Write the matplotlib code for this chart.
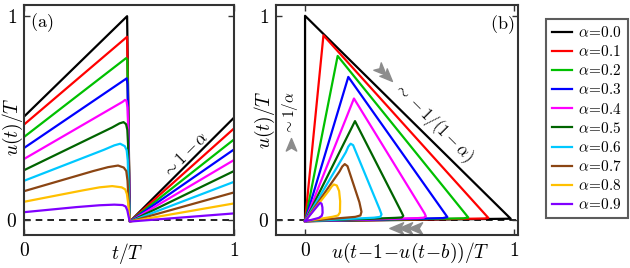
import numpy as np
import matplotlib
matplotlib.use("Agg")
import matplotlib.pyplot as plt
from matplotlib.path import Path

plt.rcParams["mathtext.fontset"] = "cm"
plt.rcParams["font.family"] = "serif"
plt.rcParams["font.serif"] = ["DejaVu Serif"]

alphas = [0.0, 0.1, 0.2, 0.3, 0.4, 0.5, 0.6, 0.7, 0.8, 0.9]
colors = ["#000000", "#ff0000", "#00c000", "#0000ff", "#ff00ff",
          "#006400", "#00c8ff", "#8b4513", "#ffc000", "#8000ff"]

# panel (a): u(t)/T over one period
a_start = [0.505, 0.466, 0.405, 0.351, 0.297, 0.242, 0.190, 0.139, 0.087, 0.036]
a_end = [0.500, 0.447, 0.393, 0.344, 0.292, 0.238, 0.185, 0.133, 0.079, 0.030]
a_reset_t = 0.504
a_reset_u = -0.01
a_top_t = [
    [0.491],
    [0.491],
    [0.486, 0.492],
    [0.482, 0.489, 0.493],
    [0.470, 0.481, 0.488, 0.493, 0.496],
    [0.420, 0.455, 0.474, 0.486, 0.492, 0.496, 0.499],
    [0.380, 0.430, 0.458, 0.480, 0.489, 0.494, 0.498],
    [0.330, 0.400, 0.448, 0.475, 0.487, 0.493, 0.498],
    [0.280, 0.360, 0.420, 0.465, 0.482, 0.490, 0.496, 0.500],
    [0.250, 0.360, 0.430, 0.470, 0.484, 0.492, 0.498],
]
a_top_u = [
    [0.998],
    [0.897],
    [0.792, 0.785],
    [0.688, 0.693, 0.665],
    [0.578, 0.587, 0.583, 0.550, 0.450],
    [0.452, 0.472, 0.478, 0.468, 0.440, 0.360, 0.200],
    [0.342, 0.364, 0.372, 0.360, 0.340, 0.290, 0.150],
    [0.238, 0.257, 0.265, 0.255, 0.238, 0.190, 0.090],
    [0.143, 0.158, 0.164, 0.158, 0.148, 0.125, 0.080, 0.030],
    [0.061, 0.070, 0.073, 0.071, 0.064, 0.045, 0.015],
]

# panel (b): u(t)/T against the delayed value, one loop per alpha
b_x = [
    [0, 0, 0.984, 0],
    [0, 0.088, 0.877, 0.86, 0],
    [0, 0.156, 0.781, 0.76, 0],
    [0, 0.207, 0.681, 0.66, 0],
    [0, 0.234, 0.572, 0.578, 0.568, 0.54, 0],
    [0, 0.239, 0.462, 0.470, 0.463, 0.43, 0],
    [0, 0.195, 0.207, 0.218, 0.230, 0.357, 0.366, 0.360, 0.33, 0],
    [0, 0.165, 0.178, 0.190, 0.203, 0.260, 0.270, 0.265, 0.24, 0],
    [0, 0.115, 0.128, 0.138, 0.152, 0.163, 0.168, 0.167, 0.158, 0.13, 0],
    [0, 0.062, 0.072, 0.079, 0.083, 0.084, 0.080, 0.066, 0.03, 0],
]
b_y = [
    [-0.008, 1.0, 0.004, -0.008],
    [-0.008, 0.904, 0.008, 0.005, -0.008],
    [-0.008, 0.803, 0.010, 0.006, -0.008],
    [-0.008, 0.700, 0.012, 0.007, -0.008],
    [-0.008, 0.594, 0.030, 0.016, 0.009, 0.007, -0.008],
    [-0.008, 0.483, 0.035, 0.018, 0.010, 0.008, -0.008],
    [-0.008, 0.330, 0.358, 0.372, 0.365, 0.050, 0.025, 0.013, 0.009, -0.008],
    [-0.008, 0.236, 0.260, 0.272, 0.262, 0.085, 0.038, 0.020, 0.013, -0.008],
    [-0.008, 0.143, 0.163, 0.172, 0.167, 0.140, 0.090, 0.035, 0.020, 0.013, -0.008],
    [-0.008, 0.070, 0.082, 0.078, 0.060, 0.033, 0.018, 0.008, -0.002, -0.008],
]


def dart(angle):
    """Gray arrowhead marker pointing at `angle` degrees."""
    v = np.array([[1, 0], [-0.8, 0.75], [-0.35, 0], [-0.8, -0.75], [1, 0]])
    r = np.deg2rad(angle)
    rot = np.array([[np.cos(r), -np.sin(r)], [np.sin(r), np.cos(r)]])
    v = v @ rot.T
    return Path(v, [Path.MOVETO, Path.LINETO, Path.LINETO, Path.LINETO, Path.CLOSEPOLY])


def style(ax):
    for s in ax.spines.values():
        s.set_linewidth(1.5)
        s.set_color("#333333")
    ax.tick_params(direction="in", length=4, width=1, top=True, right=True,
                   labelsize=14, pad=5, colors="#333333", labelcolor="black")
    ax.set_ylim(-0.076, 1.053)
    ax.set_yticks([0, 1], ["$0$", "$1$"])
    ax.set_xticks([0, 1], ["$0$", "$1$"])


fig = plt.figure(figsize=(6.3, 2.68), dpi=100)
ax_a = fig.add_axes([24 / 630, 1 - 235 / 268, 210 / 630, 230 / 268])
ax_b = fig.add_axes([276 / 630, 1 - 235 / 268, 242 / 630, 230 / 268])

# (a)
ax_a.axhline(0, color="black", ls=(0, (4, 3)), lw=1.2, zorder=1)
for i, a in enumerate(alphas):
    t = [0] + a_top_t[i] + [a_reset_t, 1]
    u = [a_start[i]] + a_top_u[i] + [a_reset_u, a_end[i]]
    ax_a.plot(t, u, color=colors[i], lw=1.6, solid_joinstyle="round",
              label=r"$\alpha\! =\! %.1f$" % a)
style(ax_a)
ax_a.set_xlim(0, 1)
ax_a.set_xlabel("$t/T$", fontsize=14, va="top")
ax_a.xaxis.set_label_coords(0.49, -0.025)
ax_a.set_ylabel("$u(t)/T$", fontsize=14, va="center")
ax_a.yaxis.set_label_coords(-0.052, 0.47)
ax_a.text(0.086, 0.965, r"$\mathrm{(a)}$", fontsize=13, ha="center", va="center")
ax_a.text(0.77, 0.317, r"$\sim 1-\alpha$", fontsize=12, rotation=45,
          ha="center", va="center")

# (b)
ax_b.axhline(0, color="black", ls=(0, (4, 3)), lw=1.2, zorder=1)
for i, a in enumerate(alphas):
    ax_b.plot(b_x[i], b_y[i], color=colors[i], lw=1.6, solid_joinstyle="round")
style(ax_b)
ax_b.set_xlim(-0.139, 1.019)
ax_b.set_xlabel(r"$u(t\!-\!1\!-\!u(t\!-\!b))/T$", fontsize=14, va="top")
ax_b.xaxis.set_label_coords(0.554, -0.025)
ax_b.set_ylabel("$u(t)/T$", fontsize=14, va="center")
ax_b.yaxis.set_label_coords(-0.045, 0.5)
ax_b.text(0.943, 0.956, r"$\mathrm{(b)}$", fontsize=13, ha="center", va="center")
ax_b.text(0.615, 0.479, r"$\sim -1/(1-\alpha)$", fontsize=12, rotation=-45,
          ha="center", va="center")
ax_b.text(-0.072, 0.52, r"$\sim 1/\alpha$", fontsize=11, rotation=90,
          ha="center", va="center")
gray = "#8c8c8c"
ax_b.plot([-0.067], [0.365], marker=dart(90), ms=10, color=gray, ls="none")
ax_b.plot([0.362, 0.392], [0.735, 0.705], marker=dart(-45), ms=11, color=gray, ls="none")
ax_b.plot([0.44, 0.485, 0.53], [-0.04, -0.04, -0.04], marker=dart(180), ms=11,
          color=gray, ls="none")

leg = fig.legend(*ax_a.get_legend_handles_labels(), loc="upper left",
                 bbox_to_anchor=(546 / 630, 1 - 19 / 268), fontsize=11,
                 frameon=True, fancybox=False, edgecolor="#333333",
                 handlelength=1.3, handletextpad=0.4, borderpad=0.4,
                 labelspacing=0.27, borderaxespad=0)
leg.get_frame().set_linewidth(1.5)

fig.savefig("out.png", dpi=100)
